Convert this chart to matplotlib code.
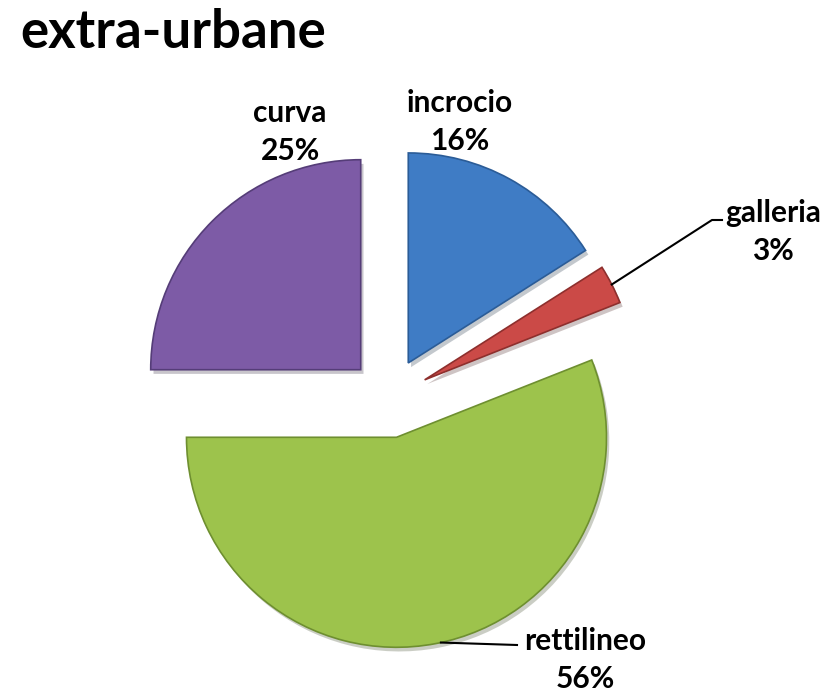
import numpy as np
import matplotlib
matplotlib.use('Agg')
import matplotlib.pyplot as plt
import matplotlib.patheffects as pe

labels = ['incrocio', 'galleria', 'rettilineo', 'curva']
values = [16, 3, 56, 25]
colors = ['#3F7CC5', '#CB4A47', '#9DC34C', '#7D5BA6']
edges = ['#2B5C97', '#8E2F2D', '#6E8F30', '#553D78']

W, H = 831, 692
plt.rcParams['font.family'] = ['Lato', 'DejaVu Sans']

fig = plt.figure(figsize=(W / 100, H / 100), dpi=100)
ax = fig.add_axes([0, 0, 1, 1])

cx, cy, r = 389, H - 398, 210
# explode is given in data units here (pixels), not in radius fractions
wedges, _ = ax.pie(values, colors=colors, startangle=90, counterclock=False,
                   explode=[40] * 4, radius=r, center=(cx, cy),
                   wedgeprops=dict(linewidth=1.2))
for w, ec in zip(wedges, edges):
    w.set_edgecolor(ec)
    w.set_path_effects([pe.SimplePatchShadow(offset=(2, -3), alpha=0.25),
                        pe.Normal()])

# pie() resets the limits, so set them afterwards
ax.set_xlim(0, W)
ax.set_ylim(0, H)
ax.set_aspect('equal')
ax.axis('off')

ax.text(20, H - 32, 'extra-urbane', fontsize=38, fontweight='bold',
        ha='left', va='center')

# label positions (image pixels)
pos = {'incrocio': (460, 122), 'galleria': (773, 232),
       'rettilineo': (585, 660), 'curva': (290, 132)}
for lab, v in zip(labels, values):
    x, y = pos[lab]
    ax.text(x, H - y, f'{lab}\n{v}%', fontsize=21.5, fontweight='bold',
            ha='center', va='center', linespacing=1.45)

# leader lines from the wedge edge
def edge_point(w, frac=0.5):
    ang = np.deg2rad(w.theta1 + frac * (w.theta2 - w.theta1))
    return w.center[0] + w.r * np.cos(ang), w.center[1] + w.r * np.sin(ang)

gx, gy = edge_point(wedges[1])
ax.plot([gx, 712, 722], [gy, H - 220, H - 220], color='black', lw=1.5)
rx, ry = edge_point(wedges[2], 0.507)
ax.plot([rx, 517], [ry, H - 645], color='black', lw=1.5)

fig.savefig('out.png', dpi=100)
